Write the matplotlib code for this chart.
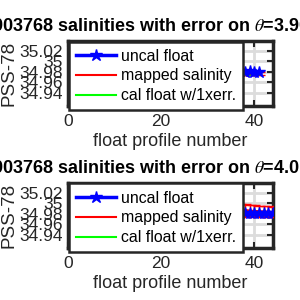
import numpy as np
import matplotlib.pyplot as plt

plt.rcParams['font.family'] = ['Liberation Sans', 'DejaVu Sans']
plt.rcParams['mathtext.fontset'] = 'stix'

float_name = '3903768'
theta_levels = ['3.90625', '4.01184']

# profiles visible to the right of the legend
prof_top = [37, 38, 39, 40, 41]
uncal_top = [34.981, 34.980, 34.981, 34.980, 34.980]
mapped_top = [34.977, 34.977, 34.976, 34.977, 34.976]
maperr_top = [0.003, 0.003, 0.003, 0.003, 0.003]
cal_top = [34.975, 34.975, 34.974, 34.975, 34.975]

prof_bot = [37, 38, 39, 40, 41, 42, 43, 44]
uncal_bot = [34.982, 34.982, 34.981, 34.982, 34.981, 34.982, 34.981, 34.982]
mapped_bot = [34.986, 34.987, 34.986, 34.985, 34.985, 34.984, 34.984, 34.983]
maperr_bot = [0.012, 0.012, 0.011, 0.011, 0.010, 0.010, 0.010, 0.009]
cal_bot = [34.979, 34.979, 34.978, 34.979, 34.978, 34.979, 34.978, 34.979]

yticks = [34.94, 34.96, 34.98, 35.0, 35.02]
ytick_labels = ['34.94', '34.96', '34.98', '35', '35.02']
xticks = [0, 20, 40]
legend_labels = ['uncal float', 'mapped salinity', 'cal float w/1xerr.']

fig = plt.figure(figsize=(3, 3), dpi=100)

panels = [
    (0.647, prof_top, uncal_top, mapped_top, maperr_top, cal_top, theta_levels[0]),
    (0.174, prof_bot, uncal_bot, mapped_bot, maperr_bot, cal_bot, theta_levels[1]),
]

for bottom, px, uncal, mapped, merr, cal, th in panels:
    ax = fig.add_axes([0.227, bottom, 0.683, 0.217])
    ax.errorbar(px, mapped, yerr=merr, color='red', lw=1.5, capsize=4, elinewidth=1, zorder=3)
    lc, = ax.plot(px, cal, color='#00ff00', lw=1.5, zorder=3)
    lu, = ax.plot(px, uncal, color='blue', lw=2.5, marker='*', ms=9, zorder=4)
    ax.set_xlim(0, 44)
    ax.set_ylim(34.915, 35.039)
    ax.set_xticks(xticks)
    ax.set_yticks(yticks)
    ax.set_yticklabels(ytick_labels)
    ax.grid(True, color='#dcdcdc', lw=2)
    ax.set_axisbelow(True)
    ax.tick_params(direction='in', length=4, width=1.5, right=True, top=True, labelsize=12.5, colors='#262626', pad=4)
    ax.tick_params(axis='x', pad=6)
    for s in ax.spines.values():
        s.set_linewidth(2.5)
        s.set_color('#262626')
    ax.set_ylabel('PSS-78', fontsize=13.5, color='#262626', labelpad=1)
    ax.set_xlabel('float profile number', fontsize=13, color='#262626', labelpad=3)
    ax.set_title(float_name + ' salinities with error on $\\theta$=' + th + '\u00b0C',
                 fontsize=13, fontweight='bold', pad=7)
    red_handle = plt.Line2D([], [], color='red', lw=1.5)
    leg = ax.legend([lu, red_handle, lc], legend_labels,
                    loc='upper left', bbox_to_anchor=(0.0, 1.0), borderaxespad=0.05, fontsize=11.4,
                    handlelength=2.5, handletextpad=0.32, labelspacing=0.3,
                    borderpad=0.45, fancybox=False, framealpha=1, edgecolor='#262626')
    leg.get_frame().set_linewidth(1.8)

fig.savefig('out.png', dpi=100)
